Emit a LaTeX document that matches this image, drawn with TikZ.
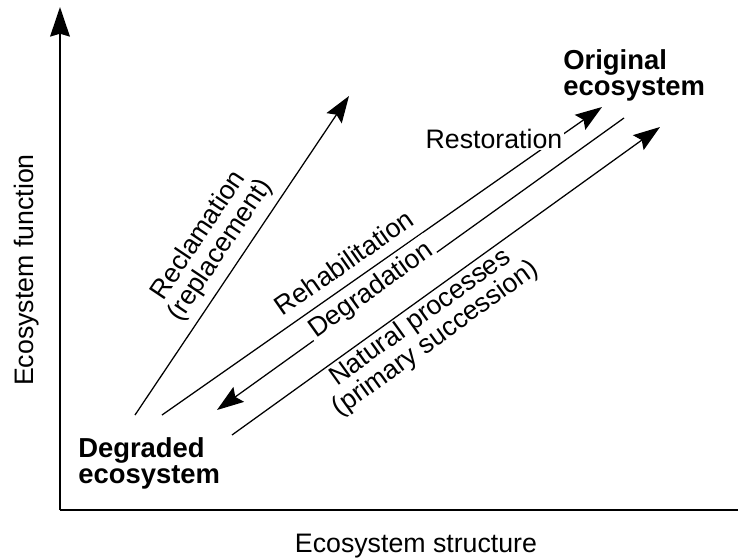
\documentclass[tikz,border=0pt]{standalone}
\usepackage{fontspec}
\setmainfont{Liberation Sans}
\usetikzlibrary{arrows.meta}
\begin{document}
\begin{tikzpicture}[x=0.025cm, y=-0.025cm,
	font=\fontsize{19}{18.6}\selectfont,
	state/.style={font=\fontsize{19.5}{18.4}\selectfont\bfseries, align=left, inner sep=0pt},
	change/.style={line width=0.9pt, -{Stealth[length=19pt, width=13pt, inset=3pt]}},
	axis/.style={line width=1.4pt}]
	\useasboundingbox (0,0) rectangle (738,558);
	% axes
	\coordinate (origin) at (60,510);
	\coordinate (ytop) at (60,7);
	\coordinate (xend) at (738,510);
	\draw[axis, -{Stealth[length=21pt, width=14pt, inset=2pt]}] (origin) -- (ytop);
	\draw[axis] (origin) -- (xend);
	\node[rotate=90, anchor=base] (ylabel) at (33,270) {Ecosystem function};
	\node[anchor=base] (xlabel) at (416,552) {Ecosystem structure};
	% the two states
	\node[state, anchor=north west] (degraded) at (78,437) {Degraded\\ecosystem};
	\node[state, anchor=north west] (original) at (563,49) {Original\\ecosystem};
	% ends of the arrows
	\coordinate (recStart) at (135,415);
	\coordinate (recTip) at (349,96);
	\coordinate (rehStart) at (162,415);
	\coordinate (restTip) at (602,107);
	\coordinate (degStart) at (624,118);
	\coordinate (degTip) at (217,410);
	\coordinate (natStart) at (232,435);
	\coordinate (natTip) at (660,127);
	% arrows
	\draw[change] (recStart) -- (recTip)
		node[pos=0.48, sloped, above=2pt, align=center] (reclamation) {Reclamation\\(replacement)};
	\draw[change] (rehStart) -- (restTip)
		node[pos=0.44, sloped, above=4pt] (rehab) {Rehabilitation}
		node[pos=0.916, anchor=east, yshift=-4pt, fill=white, inner sep=1.5pt] (restoration) {Restoration};
	\draw[change] (degStart) -- (degTip)
		node[pos=0.611, sloped, anchor=base, fill=white, inner xsep=2pt, inner ysep=3pt] (degradation) {Degradation};
	\draw[change] (natStart) -- (natTip)
		node[pos=0.42, sloped, below=-2pt, align=center] (natural) {Natural processes\\(primary succession)};
\end{tikzpicture}
\end{document}
